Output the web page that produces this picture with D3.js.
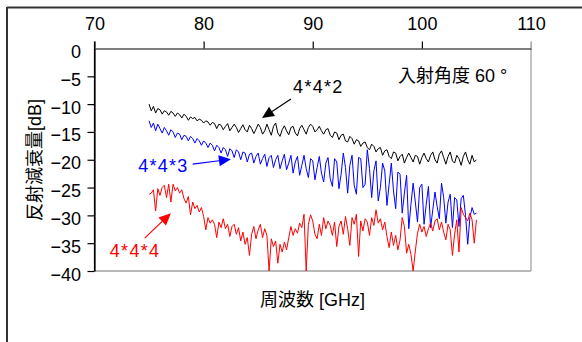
<!DOCTYPE html>
<html><head><meta charset="utf-8">
<script src="https://cdn.jsdelivr.net/npm/d3@7"></script>
<style>
html,body{margin:0;padding:0;background:#fff;}
svg{display:block;font-family:"Liberation Sans",Arial,"Noto Sans CJK JP",sans-serif;}
</style></head>
<body>
<svg id="chart" width="582" height="342"></svg>
<script>
// ---- data ----
const freqStart = 75, freqStep = 0.2;  // GHz sample grid
const xTicks = [70, 80, 90, 100, 110];
const yTicks = [0, -5, -10, -15, -20, -25, -30, -35, -40];
const seriesNames = ["4*4*2", "4*4*3", "4*4*4"];
const seriesColors = ["#000000", "#0000ff", "#ff0000"];

const s442 = [
 -10.0,-11.2,-10.4,-11.6,-10.8,-11.0,-11.8,-11.2,-11.4,-12.0,
 -11.3,-11.6,-12.2,-11.6,-11.9,-12.5,-11.8,-12.2,-12.9,-12.3,
 -12.6,-12.4,-13.0,-12.7,-12.9,-13.4,-13.0,-13.2,-13.8,-13.3,
 -13.5,-14.4,-13.6,-13.8,-14.6,-14.0,-13.5,-14.8,-14.2,-13.6,
 -14.2,-15.1,-14.4,-13.7,-14.6,-15.0,-13.8,-14.4,-15.3,-14.5,
 -13.6,-14.2,-15.4,-14.8,-13.6,-14.6,-15.6,-14.0,-13.4,-15.2,
 -15.8,-14.6,-13.9,-14.8,-15.5,-14.2,-14.0,-15.2,-15.7,-14.4,
 -13.8,-14.6,-15.4,-14.2,-13.6,-14.0,-15.0,-14.6,-14.0,-14.8,
 -15.4,-14.6,-14.4,-15.6,-16.0,-15.0,-15.2,-16.4,-15.6,-15.4,
 -16.6,-16.8,-15.8,-16.2,-17.2,-16.4,-16.6,-17.6,-17.0,-16.8,
 -17.8,-18.2,-17.2,-17.6,-18.6,-18.0,-17.8,-19.2,-18.4,-18.2,
 -19.4,-19.8,-18.6,-18.8,-20.2,-19.4,-19.0,-20.6,-19.6,-18.8,
 -19.6,-20.4,-19.2,-19.4,-20.8,-19.6,-18.8,-19.8,-20.4,-19.2,
 -18.6,-20.0,-20.6,-19.0,-18.4,-19.6,-20.8,-19.4,-18.6,-20.2,
 -20.6,-19.2,-19.8,-21.0,-19.4,-18.6,-20.0,-20.8,-19.2,-20.4,
 -20.0
];
const s443 = [
 -13.0,-14.2,-13.4,-14.8,-13.6,-14.4,-15.2,-14.2,-14.8,-15.6,
 -14.6,-15.0,-16.0,-15.2,-15.4,-16.4,-15.6,-15.8,-16.6,-15.8,
 -16.2,-17.0,-16.2,-16.6,-17.4,-16.6,-17.0,-17.8,-17.0,-17.4,
 -18.4,-17.4,-17.8,-18.8,-17.8,-18.2,-19.4,-18.0,-18.4,-19.6,
 -18.2,-18.6,-20.0,-18.6,-18.8,-20.4,-19.0,-18.8,-20.6,-19.4,
 -18.8,-20.8,-19.8,-19.0,-21.2,-19.6,-19.2,-21.4,-20.0,-19.2,
 -21.6,-20.2,-19.0,-21.8,-20.6,-19.2,-22.4,-20.4,-19.4,-22.8,
 -21.0,-19.2,-21.6,-23.2,-19.8,-20.2,-23.6,-21.4,-19.4,-22.4,
 -24.0,-20.6,-19.6,-23.4,-24.8,-19.8,-20.4,-25.2,-22.6,-18.8,
 -21.4,-26.0,-21.0,-19.2,-24.6,-26.2,-19.6,-19.8,-25.0,-24.4,
 -18.2,-21.6,-26.8,-22.0,-20.2,-27.4,-25.0,-20.6,-22.0,-28.2,
 -24.4,-20.6,-25.6,-28.8,-22.2,-22.6,-29.6,-26.0,-22.8,-32.4,
 -28.0,-24.2,-27.6,-31.2,-25.0,-24.4,-31.6,-28.0,-24.8,-32.2,
 -29.0,-25.8,-28.4,-30.6,-24.2,-26.8,-31.4,-27.6,-26.2,-32.2,
 -26.8,-27.2,-32.0,-27.0,-26.4,-30.0,-35.2,-30.4,-28.6,-29.8,
 -29.6
];
const s444 = [
 -26.2,-26.0,-25.4,-29.2,-25.2,-26.4,-25.0,-24.6,-26.8,-24.4,
 -27.6,-24.4,-25.6,-25.0,-26.0,-25.4,-27.0,-27.8,-26.6,-29.9,
 -27.6,-28.8,-28.2,-29.4,-28.6,-30.2,-32.6,-30.4,-31.4,-30.8,
 -31.6,-34.0,-31.2,-32.2,-30.6,-32.4,-31.6,-33.8,-32.0,-31.6,
 -33.4,-32.2,-34.6,-33.0,-35.2,-34.0,-37.2,-33.4,-32.0,-34.2,
 -32.6,-31.6,-34.0,-32.4,-33.6,-40.0,-34.2,-35.6,-34.6,-38.6,
 -35.2,-36.6,-34.8,-36.2,-34.0,-32.0,-33.6,-32.4,-33.2,-31.4,
 -32.2,-29.8,-40.0,-31.6,-29.9,-31.0,-33.4,-34.2,-31.6,-33.6,
 -30.4,-32.4,-31.0,-31.8,-33.6,-31.2,-35.6,-32.0,-31.0,-33.4,
 -30.2,-32.4,-35.4,-30.4,-31.6,-29.8,-37.4,-31.0,-32.8,-30.6,
 -31.2,-33.6,-30.4,-31.8,-29.0,-31.4,-30.6,-32.6,-31.2,-33.8,
 -35.8,-33.0,-35.4,-33.6,-36.2,-34.4,-30.4,-32.0,-36.8,-35.2,
 -37.0,-40.0,-36.4,-33.2,-31.6,-33.0,-32.0,-33.8,-32.4,-31.4,
 -32.8,-31.0,-30.6,-32.6,-31.2,-33.0,-34.4,-31.6,-32.6,-37.2,
 -33.4,-30.8,-36.6,-28.6,-29.8,-30.4,-31.0,-29.6,-30.8,-35.0,
 -30.8
];
const seriesValues = [s442, s443, s444];

// ---- drawing ----
const svg = d3.select("#chart");
const x = d3.scaleLinear().domain([70, 110]).range([94.5, 531]);
const y = d3.scaleLinear().domain([-40, 0]).range([271, 48.5]);

// outer frame (top + left visible)
svg.append("line").attr("x1", 7).attr("x2", 582).attr("y1", 7.5).attr("y2", 7.5)
  .attr("stroke", "#333").attr("stroke-width", 2);
svg.append("line").attr("x1", 7).attr("x2", 7).attr("y1", 7).attr("y2", 342)
  .attr("stroke", "#333").attr("stroke-width", 2);

// plot box right & bottom (grey)
svg.append("line").attr("x1", x(110)).attr("x2", x(110)).attr("y1", y(0) - 7).attr("y2", y(-40))
  .attr("stroke", "#b0b0b0").attr("stroke-width", 1.5);
svg.append("line").attr("x1", x(70)).attr("x2", x(110)).attr("y1", y(-40)).attr("y2", y(-40))
  .attr("stroke", "#a0a0a0").attr("stroke-width", 1.5);

// top axis
const gx = svg.append("g").attr("transform", `translate(0,${y(0)})`)
  .call(d3.axisTop(x).tickValues(xTicks).tickSize(7).tickSizeOuter(0).tickPadding(11.5));
gx.select(".domain").attr("stroke", "#000").attr("stroke-width", 1.2);
gx.selectAll(".tick line").attr("stroke", (d) => d === 110 ? "#b0b0b0" : "#000").attr("stroke-width", 1.2);
gx.selectAll(".tick text").attr("font-size", 18).attr("fill", "#000")
  .attr("font-family", '"Liberation Sans",Arial,sans-serif');

// left axis
const gy = svg.append("g").attr("transform", `translate(${x(70)},0)`)
  .call(d3.axisLeft(y).tickValues(yTicks).tickSize(7).tickSizeOuter(0).tickPadding(6.5));
gy.select(".domain").attr("stroke", "#000").attr("stroke-width", 1.2);
gy.selectAll(".tick line").attr("stroke", "#000").attr("stroke-width", 1.2)
  .attr("display", (d) => d === 0 ? "none" : null);
gy.selectAll(".tick text").attr("font-size", 18).attr("fill", "#000").attr("dy", "0.5em")
  .attr("font-family", '"Liberation Sans",Arial,sans-serif');
svg.append("line").attr("x1", x(70)).attr("x2", x(70)).attr("y1", y(0) - 7).attr("y2", y(-40))
  .attr("stroke", "#000").attr("stroke-width", 1.2);

// series lines
const line = d3.line().x((d, i) => x(freqStart + i * freqStep)).y((d) => y(d));
seriesValues.forEach((vals, k) => {
  svg.append("path").datum(vals).attr("d", line).attr("fill", "none")
    .attr("stroke", seriesColors[k]).attr("stroke-width", 1).attr("stroke-linejoin", "miter");
});

// axis titles
svg.append("text").attr("x", 312.5).attr("y", 306).attr("text-anchor", "middle")
  .attr("font-size", 18).attr("fill", "#000").text("周波数 [GHz]");
svg.append("text").attr("transform", "translate(35,160) rotate(-90)").attr("text-anchor", "middle")
  .attr("dy", "0.36em").attr("font-size", 18).attr("fill", "#000").text("反射減衰量[dB]");

// annotation
svg.append("text").attr("x", 398).attr("y", 82).attr("font-size", 18).attr("fill", "#000")
  .text("入射角度 60 °");

// series labels with arrows (positions in data space)
const labels = [
  { name: seriesNames[0], color: seriesColors[0], tx: 88.2, ty: -8.0, from: [88.0, -9.1], to: [85.35, -12.5] },
  { name: seriesNames[1], color: seriesColors[1], tx: 74.0, ty: -22.2, from: [79.0, -20.8], to: [82.5, -19.9] },
  { name: seriesNames[2], color: seriesColors[2], tx: 71.4, ty: -37.5, from: [74.6, -34.1], to: [77.0, -29.6] }
];
labels.forEach((L) => {
  svg.append("text").attr("x", x(L.tx)).attr("y", y(L.ty)).attr("font-size", 18)
    .attr("letter-spacing", 1.3).attr("fill", L.color).text(L.name);
  const x1 = x(L.from[0]), y1 = y(L.from[1]), x2 = x(L.to[0]), y2 = y(L.to[1]);
  const ang = Math.atan2(y2 - y1, x2 - x1), hl = 12, hw = 5.5;
  const bx = x2 - hl * Math.cos(ang), by = y2 - hl * Math.sin(ang);
  svg.append("line").attr("x1", x1).attr("y1", y1).attr("x2", bx).attr("y2", by)
    .attr("stroke", L.color).attr("stroke-width", 1.2);
  const pts = [[x2, y2],
    [bx + hw * Math.sin(ang), by - hw * Math.cos(ang)],
    [bx - hw * Math.sin(ang), by + hw * Math.cos(ang)]];
  svg.append("polygon").attr("points", pts.map((p) => p.join(",")).join(" ")).attr("fill", L.color);
});
</script>
</body></html>
